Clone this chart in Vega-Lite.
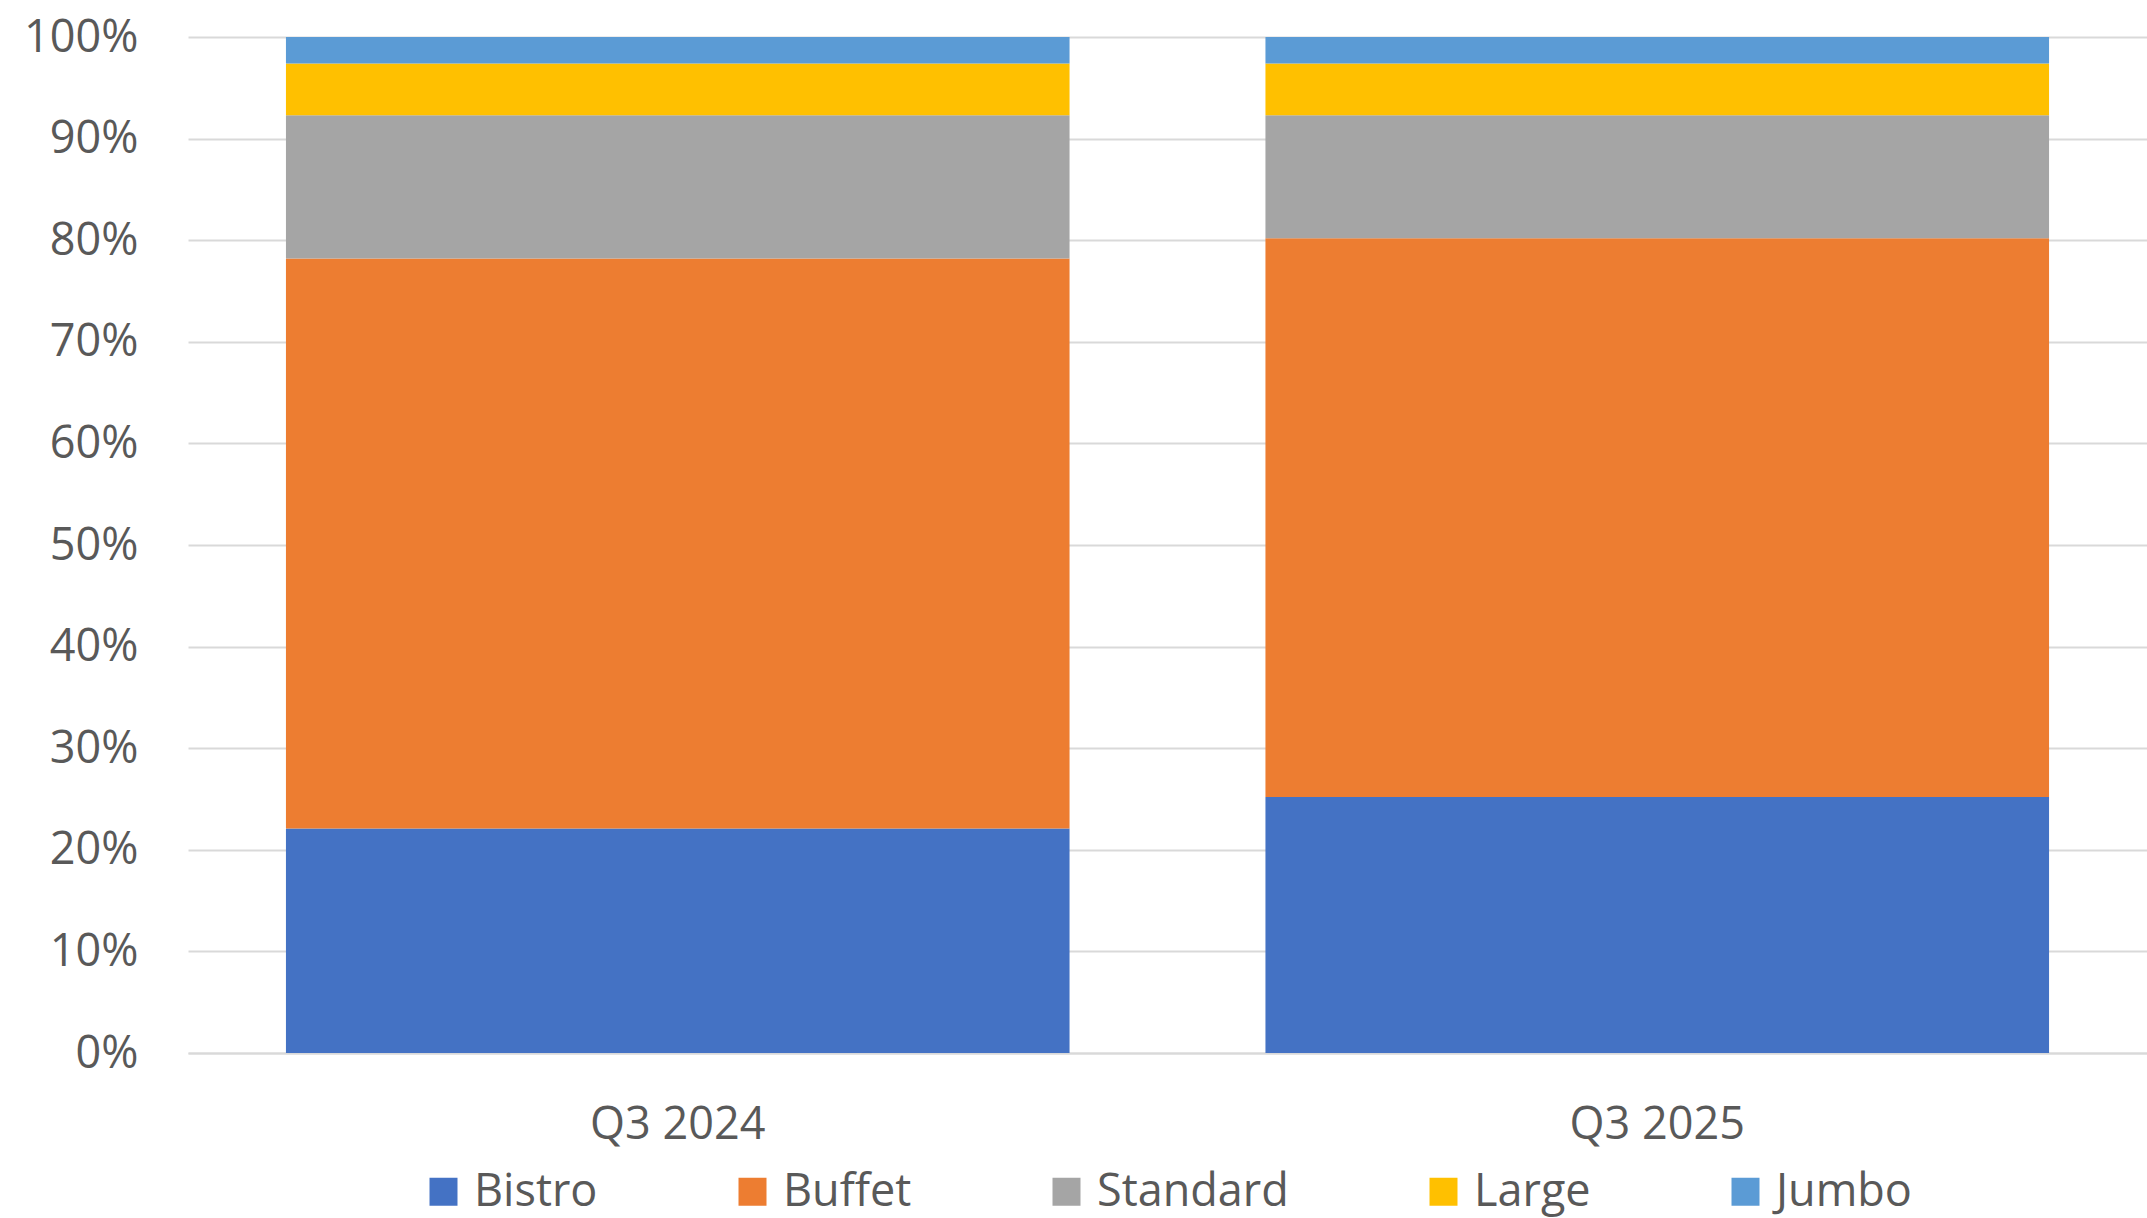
{
  "$schema": "https://vega.github.io/schema/vega-lite/v6.json",
  "autosize": {"type": "none"},
  "padding": {"left": 188, "top": 37, "right": 0, "bottom": 165},
  "width": 1959,
  "height": 1016,
  "background": "white",
  "data": {
    "values": [
      {"quarter": "Q3 2024", "type": "Bistro", "order": 1, "share": 22.1},
      {"quarter": "Q3 2024", "type": "Buffet", "order": 2, "share": 56.1},
      {"quarter": "Q3 2024", "type": "Standard", "order": 3, "share": 14.1},
      {"quarter": "Q3 2024", "type": "Large", "order": 4, "share": 5.1},
      {"quarter": "Q3 2024", "type": "Jumbo", "order": 5, "share": 2.6},
      {"quarter": "Q3 2025", "type": "Bistro", "order": 1, "share": 25.2},
      {"quarter": "Q3 2025", "type": "Buffet", "order": 2, "share": 55.0},
      {"quarter": "Q3 2025", "type": "Standard", "order": 3, "share": 12.1},
      {"quarter": "Q3 2025", "type": "Large", "order": 4, "share": 5.1},
      {"quarter": "Q3 2025", "type": "Jumbo", "order": 5, "share": 2.6}
    ]
  },
  "mark": {"type": "bar"},
  "encoding": {
    "x": {
      "field": "quarter",
      "type": "nominal",
      "scale": {"paddingInner": 0.2, "paddingOuter": 0.1},
      "axis": {
        "title": null,
        "labelAngle": 0,
        "labelFont": "Open Sans",
        "labelFontSize": 45,
        "labelColor": "#595959",
        "labelPadding": 49,
        "domainColor": "#D9D9D9",
        "domainWidth": 2,
        "ticks": false,
        "tickSize": 0,
        "grid": false
      }
    },
    "y": {
      "field": "share",
      "type": "quantitative",
      "stack": "normalize",
      "scale": {"domain": [0, 1], "nice": false},
      "axis": {
        "title": null,
        "format": ".0%",
        "values": [0, 0.1, 0.2, 0.3, 0.4, 0.5, 0.6, 0.7, 0.8, 0.9, 1],
        "labelFont": "Open Sans",
        "labelFontSize": 45,
        "labelColor": "#595959",
        "labelPadding": 50,
        "ticks": false,
        "tickSize": 0,
        "domain": false,
        "grid": true,
        "gridColor": "#D9D9D9",
        "gridWidth": 2
      }
    },
    "color": {
      "field": "type",
      "type": "nominal",
      "sort": ["Bistro", "Buffet", "Standard", "Large", "Jumbo"],
      "scale": {
        "domain": ["Bistro", "Buffet", "Standard", "Large", "Jumbo"],
        "range": ["#4472C4", "#ED7D31", "#A5A5A5", "#FFC000", "#5B9BD5"]
      },
      "legend": {
        "title": null,
        "orient": "none",
        "direction": "horizontal",
        "legendX": 233,
        "legendY": 1132,
        "padding": 0,
        "symbolType": "square",
        "symbolSize": 784,
        "symbolStrokeWidth": 0,
        "labelFont": "Open Sans",
        "labelFontSize": 45,
        "labelColor": "#595959",
        "labelOffset": 8,
        "labelLimit": 0,
        "columnPadding": 132
      }
    },
    "order": {"field": "order", "type": "quantitative", "sort": "ascending"}
  },
  "config": {"view": {"stroke": null}}
}
